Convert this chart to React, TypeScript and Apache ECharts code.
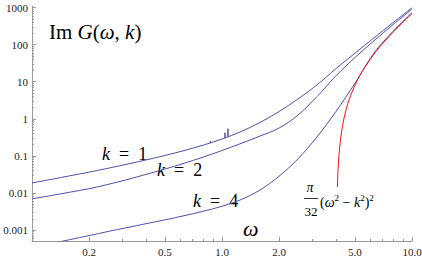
import React, { useEffect, useRef } from "react";
import * as echarts from "echarts";

// ---- data (omega, Im G) ----
const omegaGrid = [0.1, 0.126, 0.158, 0.2, 0.251, 0.316, 0.398, 0.501, 0.631, 0.794, 1, 1.259, 1.585, 1.995, 2.512, 3.162, 3.981, 5.012, 6.31, 7.943, 10];
const imGK1 = [0.0186, 0.0232, 0.029, 0.0365, 0.0463, 0.0596, 0.0776, 0.1028, 0.139, 0.194, 0.285, 0.452, 0.794, 1.567, 3.43, 8.22, 22.6, 59, 153, 392, 985];
const imGK2 = [0.00692, 0.00851, 0.01047, 0.01303, 0.01698, 0.02291, 0.03162, 0.04416, 0.0631, 0.0923, 0.1396, 0.2163, 0.3428, 0.5623, 1.259, 3.98, 14.49, 44.98, 127.9, 346.7, 909.9];
const imGK4 = [0.000331, 0.000427, 0.00055, 0.000708, 0.000912, 0.00116, 0.00148, 0.00188, 0.00243, 0.0032, 0.00437, 0.00661, 0.012, 0.0282, 0.0832, 0.324, 1.585, 9.12, 59.6, 229, 730];

// small numerical spikes on the k = 1 curve (null = gap)
const spikeOmega = [0.868, 0.87, 0.872, null, 1.035, 1.037, 1.039, null, 1.073, 1.075, 1.077];
const spikeImG = [0.226, 0.25, 0.226, null, 0.306, 0.42, 0.308, null, 0.329, 0.54, 0.331];

// zero-temperature curve  (π/32)(ω² − k²)², k = 4
const omegaT0 = [4.048, 4.06, 4.08, 4.1, 4.125, 4.15, 4.2, 4.25, 4.3, 4.4, 4.5, 4.6, 4.75, 5.0, 5.25, 5.5, 6.0, 6.5, 7.0, 8.0, 9.0, 10.0];
const imGT0 = [0.0145, 0.023, 0.041, 0.0644, 0.1, 0.1467, 0.264, 0.415, 0.609, 1.108, 1.773, 2.63, 4.228, 7.952, 13.3, 19.94, 39.27, 68.5, 106.9, 226.2, 414.8, 692.7];

const xTickValues = [0.2, 0.5, 1, 2, 5, 10];
const xTickLabels = ["0.2", "0.5", "1.0", "2.0", "5.0", "10.0"];
const xMinorTicks = [0.3, 0.4, 0.6, 0.7, 0.8, 0.9, 3, 4, 6, 7, 8, 9];
const yTickValues = [0.001, 0.01, 0.1, 1, 10, 100, 1000];
const yTickLabels = ["0.001", "0.01", "0.1", "1", "10", "100", "1000"];

const lg = (v: number) => Math.log10(v);

const X_MIN = -1;
const X_MAX = 1;
const Y_MIN = -3.296;
const Y_MAX = 3.043;

function minorY(): number[] {
  const out: number[] = [];
  for (let e = -4; e <= 2; e++) {
    for (let m = 2; m <= 9; m++) {
      const l = Math.log10(m * Math.pow(10, e));
      if (l > Y_MIN && l < Y_MAX) out.push(l);
    }
  }
  return out;
}

const SERIF = "Liberation Serif";
const BLUE = "#5050ae";
const AXIS = "#9a9a9a";

function pts(ws: (number | null)[], vs: (number | null)[]) {
  return ws.map((w, i) => {
    const v = vs[i];
    return w == null || v == null ? "-" : [lg(w), lg(v)];
  });
}

function labelFrom(vals: number[], labels: string[], v: number) {
  const i = vals.findIndex((t) => Math.abs(lg(t) - v) < 1e-6);
  return i >= 0 ? labels[i] : "";
}

function richLabel(text: string, size: number) {
  return {
    text,
    verticalAlign: "middle",
    align: "left",
    rich: {
      r: { fontFamily: SERIF, fontSize: size, fill: "#000" },
      i: { fontFamily: SERIF, fontSize: size, fontStyle: "italic", fill: "#000" },
    },
  };
}

export default function App() {
  const ref = useRef<HTMLDivElement>(null);
  useEffect(() => {
    if (!ref.current) return;
    const chart = echarts.init(ref.current, null, { renderer: "svg" });
    const tickLabelStyle = { fontFamily: SERIF, fontSize: 11, color: "#222" };
    const line = (data: any[], color: string, smooth: number | boolean) => ({
      type: "line", data, showSymbol: false, symbol: "none", smooth,
      connectNulls: false,
      lineStyle: { color, width: 1 }, xAxisIndex: 0, yAxisIndex: 0,
    });
    const option: any = {
      animation: false,
      backgroundColor: "#fff",
      textStyle: { fontFamily: SERIF },
      grid: { left: 32, right: 10, top: 6, bottom: 19, containLabel: false, outerBoundsMode: "none" },
      xAxis: [
        {
          type: "value", min: X_MIN, max: X_MAX, position: "bottom",
          axisLine: { show: true, onZero: false, lineStyle: { color: AXIS, width: 1 } },
          axisTick: { show: true, inside: true, length: 4, lineStyle: { color: AXIS }, customValues: xTickValues.map(lg) },
          axisLabel: { ...tickLabelStyle, margin: 5, customValues: xTickValues.map(lg), formatter: (v: number) => labelFrom(xTickValues, xTickLabels, v) },
          splitLine: { show: false },
        },
        {
          type: "value", min: X_MIN, max: X_MAX, position: "bottom",
          axisLine: { show: false, onZero: false },
          axisTick: { show: true, inside: true, length: 2, lineStyle: { color: AXIS }, customValues: xMinorTicks.map(lg) },
          axisLabel: { show: false },
          splitLine: { show: false },
        },
      ],
      yAxis: [
        {
          type: "value", min: Y_MIN, max: Y_MAX, position: "left",
          axisLine: { show: true, onZero: false, lineStyle: { color: AXIS, width: 1 } },
          axisTick: { show: true, inside: true, length: 4, lineStyle: { color: AXIS }, customValues: yTickValues.map(lg) },
          axisLabel: { ...tickLabelStyle, margin: 4, customValues: yTickValues.map(lg), formatter: (v: number) => labelFrom(yTickValues, yTickLabels, v) },
          splitLine: { show: false },
        },
        {
          type: "value", min: Y_MIN, max: Y_MAX, position: "left",
          axisLine: { show: false, onZero: false },
          axisTick: { show: true, inside: true, length: 2, lineStyle: { color: AXIS }, customValues: minorY() },
          axisLabel: { show: false },
          splitLine: { show: false },
        },
      ],
      series: [
        line(pts(omegaGrid, imGK1), BLUE, 0.35),
        line(pts(spikeOmega, spikeImG), BLUE, false),
        line(pts(omegaGrid, imGK2), BLUE, 0.35),
        line(pts(omegaGrid, imGK4), BLUE, 0.35),
        line(pts(omegaT0, imGT0), "#ff1010", false),
      ],
      graphic: [
        { type: "text", x: 49, y: 32, style: richLabel("{r|Im }{i|G}{r|(}{i|ω}{r|, }{i|k}{r|)}", 21) },
        { type: "text", x: 102, y: 154, style: richLabel("{i|k}{r|  =  1}", 18) },
        { type: "text", x: 157, y: 170, style: richLabel("{i|k}{r|  =  2}", 18) },
        { type: "text", x: 193, y: 201, style: richLabel("{i|k}{r|  =  4}", 18) },
        {
          type: "text", x: 243, y: 228,
          style: { text: "ω", fontFamily: SERIF, fontSize: 22, fontStyle: "italic", fill: "#000", verticalAlign: "middle", align: "left" },
        },
        {
          type: "text", x: 310, y: 187,
          style: { text: "π", fontFamily: SERIF, fontSize: 14, fontStyle: "italic", fill: "#000", verticalAlign: "middle", align: "center" },
        },
        {
          type: "line", shape: { x1: 304, y1: 198.5, x2: 318, y2: 198.5 },
          style: { stroke: "#000", lineWidth: 0.8 },
        },
        {
          type: "text", x: 311, y: 211,
          style: { text: "32", fontFamily: SERIF, fontSize: 13, fill: "#000", verticalAlign: "middle", align: "center" },
        },
        {
          type: "text", x: 320, y: 202,
          style: {
            text: "{p|(}{i|ω}{s|2}{p| − }{i|k}{s|2}{p|)}{s|2}",
            verticalAlign: "middle", align: "left",
            rich: {
              p: { fontFamily: SERIF, fontSize: 14, lineHeight: 18, fill: "#000" },
              i: { fontFamily: SERIF, fontSize: 14, lineHeight: 18, fontStyle: "italic", fill: "#000" },
              s: { fontFamily: SERIF, fontSize: 9, lineHeight: 10, fill: "#000", verticalAlign: "top" },
            },
          },
        },
      ],
    };
    chart.setOption(option);
    return () => chart.dispose();
  }, []);
  return (
    <div
      ref={ref}
      style={{ position: "fixed", left: 0, top: 0, width: 422, height: 260, background: "#fff" }}
    />
  );
}
